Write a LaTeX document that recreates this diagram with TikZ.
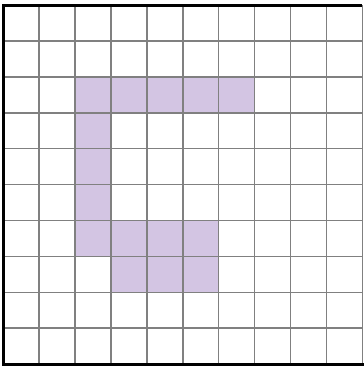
\documentclass[tikz,border=0pt]{standalone}
\usepackage{tikz}
\definecolor{cellfill}{HTML}{D3C5E3}
\definecolor{gridgray}{HTML}{808080}

\begin{document}
\begin{tikzpicture}[
    gridline/.style={gridgray, line width=1.2pt},
    frameline/.style={black, line width=2.4pt},
    filled/.style={fill=cellfill}
]

% Margins
\useasboundingbox (-0.09,-0.08) rectangle (10.03,10.14);

% Shaded cells (column, row from top)
\foreach \c/\r in {2/2,3/2,4/2,5/2,6/2,
                   2/3,2/4,2/5,
                   2/6,3/6,4/6,5/6,
                   3/7,4/7,5/7}
    \fill[filled] (\c,9-\r) rectangle ++(1,1);

% Grid
\draw[gridline] (0,0) grid (10,10);

% Frame (left, top, bottom)
\draw[frameline] (10,10) -- (0,10) -- (0,0) -- (10.1,0);

\end{tikzpicture}
\end{document}
